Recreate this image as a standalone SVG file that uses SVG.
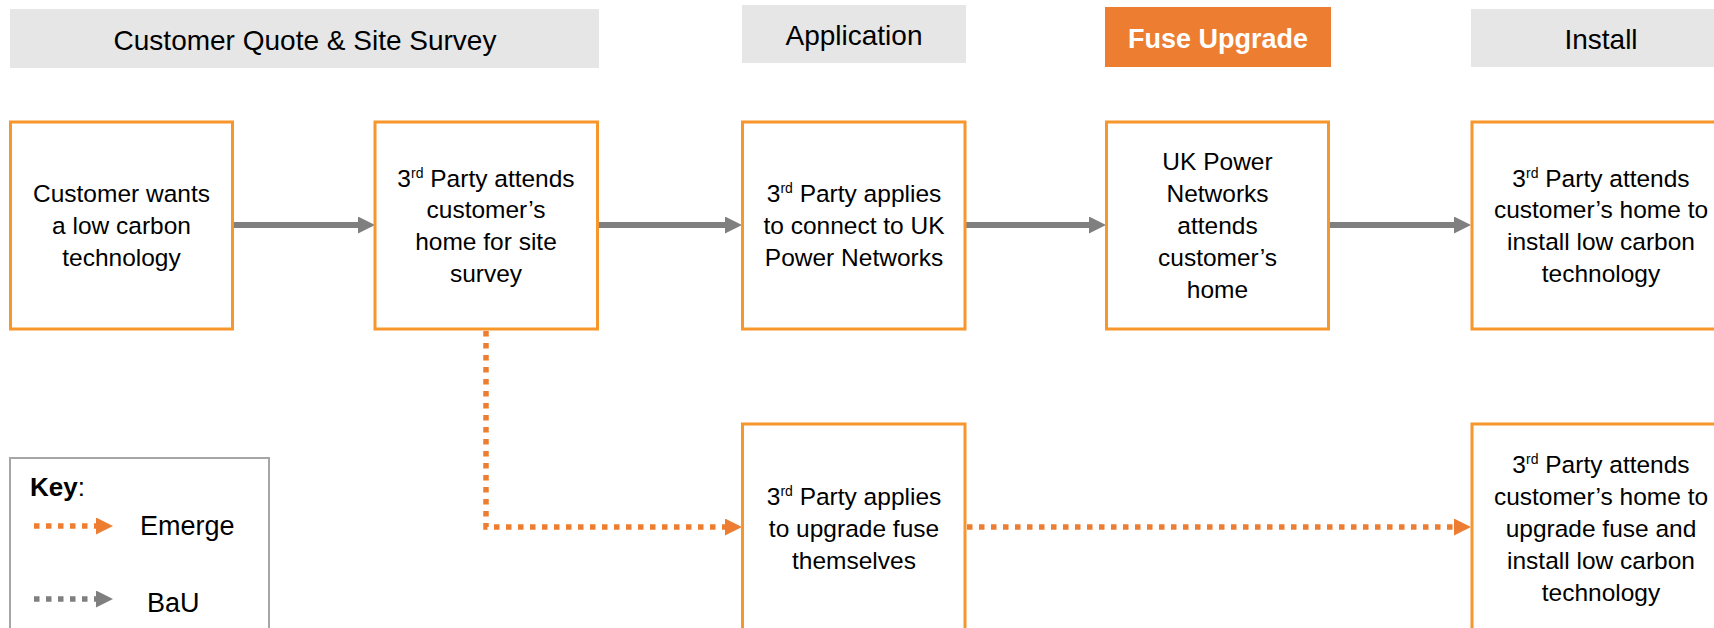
<svg xmlns="http://www.w3.org/2000/svg" width="1714" height="628" viewBox="0 0 1714 628">
<style>
.hdr{fill:#E7E6E6;}
.hdrt{font-family:"Liberation Sans",Arial,sans-serif;font-size:28px;fill:#000;text-anchor:middle;}
.node{fill:#fff;stroke:#F7962B;stroke-width:3;}
.t{font-family:"Liberation Sans",Arial,sans-serif;font-size:24.5px;fill:#000;text-anchor:middle;}
.sup{font-size:14px;}
.bau{fill:none;stroke:#7F7F7F;stroke-width:6;}
.em{fill:none;stroke:#ED7D31;stroke-width:5.5;stroke-dasharray:5.5 6.5;}
.embau{fill:none;stroke:#7F7F7F;stroke-width:5.5;stroke-dasharray:5.5 6.5;}
.key{font-family:"Liberation Sans",Arial,sans-serif;font-size:27px;fill:#000;}
</style>
<defs>
<marker id="ag" markerUnits="userSpaceOnUse" markerWidth="19" markerHeight="18" refX="2" refY="8.5" orient="auto">
<path d="M0,0 L17,8.5 L0,17 z" fill="#7F7F7F"/>
</marker>
<marker id="ao" markerUnits="userSpaceOnUse" markerWidth="19" markerHeight="18" refX="2" refY="8.5" orient="auto">
<path d="M0,0 L17,8.5 L0,17 z" fill="#ED7D31"/>
</marker>
</defs>

<g id="header-quote"><rect class="hdr" x="10" y="9" width="589" height="59"/><text class="hdrt" x="305" y="50">Customer Quote &amp; Site Survey</text></g>
<g id="header-application"><rect class="hdr" x="742" y="5" width="224" height="58"/><text class="hdrt" x="854" y="45">Application</text></g>
<g id="header-fuse"><rect x="1105" y="7" width="226" height="60" fill="#ED7D31"/><text class="hdrt" x="1218" y="48" style="fill:#fff;font-weight:bold;font-size:27px">Fuse Upgrade</text></g>
<g id="header-install"><rect class="hdr" x="1471" y="9" width="260" height="58"/><text class="hdrt" x="1601" y="49">Install</text></g>

<g id="connectors">
<line class="bau" x1="233" y1="225" x2="360" y2="225" marker-end="url(#ag)"/>
<line class="bau" x1="598" y1="225" x2="727" y2="225" marker-end="url(#ag)"/>
<line class="bau" x1="966" y1="225" x2="1091" y2="225" marker-end="url(#ag)"/>
<line class="bau" x1="1329" y1="225" x2="1456" y2="225" marker-end="url(#ag)"/>
<path class="em" d="M486,331 V527 H727" marker-end="url(#ao)"/>
<path class="em" d="M967,527 H1456" marker-end="url(#ao)"/>
</g>

<g id="n1"><rect class="node" x="10.5" y="122" width="222" height="207"/>
<text class="t"><tspan x="121.5" y="202">Customer wants</tspan><tspan x="121.5" y="234">a low carbon</tspan><tspan x="121.5" y="266">technology</tspan></text></g>
<g id="n2"><rect class="node" x="375" y="122" width="222.5" height="207"/>
<text class="t"><tspan x="486" y="187">3<tspan class="sup" dy="-9">rd</tspan><tspan dy="9"> Party attends</tspan></tspan><tspan x="486" y="218">customer’s</tspan><tspan x="486" y="250">home for site</tspan><tspan x="486" y="282">survey</tspan></text></g>
<g id="n3"><rect class="node" x="742.5" y="122" width="222.5" height="207"/>
<text class="t"><tspan x="854" y="202">3<tspan class="sup" dy="-9">rd</tspan><tspan dy="9"> Party applies</tspan></tspan><tspan x="854" y="234">to connect to UK</tspan><tspan x="854" y="266">Power Networks</tspan></text></g>
<g id="n4"><rect class="node" x="1106.5" y="122" width="222" height="207"/>
<text class="t"><tspan x="1217.5" y="170">UK Power</tspan><tspan x="1217.5" y="202">Networks</tspan><tspan x="1217.5" y="234">attends</tspan><tspan x="1217.5" y="266">customer’s</tspan><tspan x="1217.5" y="298">home</tspan></text></g>
<g id="n5"><rect class="node" x="1472" y="122" width="260" height="207"/>
<text class="t"><tspan x="1601" y="187">3<tspan class="sup" dy="-9">rd</tspan><tspan dy="9"> Party attends</tspan></tspan><tspan x="1601" y="218">customer’s home to</tspan><tspan x="1601" y="250">install low carbon</tspan><tspan x="1601" y="282">technology</tspan></text></g>
<g id="n6"><rect class="node" x="742.5" y="424" width="222.5" height="220"/>
<text class="t"><tspan x="854" y="505">3<tspan class="sup" dy="-9">rd</tspan><tspan dy="9"> Party applies</tspan></tspan><tspan x="854" y="537">to upgrade fuse</tspan><tspan x="854" y="569">themselves</tspan></text></g>
<g id="n7"><rect class="node" x="1472" y="424" width="260" height="220"/>
<text class="t"><tspan x="1601" y="473">3<tspan class="sup" dy="-9">rd</tspan><tspan dy="9"> Party attends</tspan></tspan><tspan x="1601" y="505">customer’s home to</tspan><tspan x="1601" y="537">upgrade fuse and</tspan><tspan x="1601" y="569">install low carbon</tspan><tspan x="1601" y="601">technology</tspan></text></g>

<g id="key">
<rect x="10" y="458" width="259" height="190" fill="#fff" stroke="#A6A6A6" stroke-width="2"/>
<text class="key" x="30" y="496" style="font-size:26px"><tspan font-weight="bold">Key</tspan>:</text>
<path class="em" d="M34,526 H98" marker-end="url(#ao)"/>
<text class="key" x="140" y="535">Emerge</text>
<path class="embau" d="M34,599 H98" marker-end="url(#ag)"/>
<text class="key" x="147" y="612">BaU</text>
</g>
</svg>
